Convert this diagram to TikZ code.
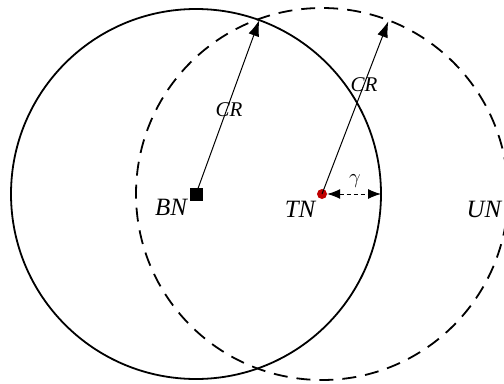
\documentclass[tikz,border=0pt]{standalone}
\usepackage{fontspec}
\setmainfont{Liberation Serif}
\usetikzlibrary{arrows.meta,calc}
\begin{document}
\begin{tikzpicture}[x=1bp,y=1bp,
  lbl/.style={inner sep=0pt,font=\fontsize{25}{25}\selectfont\itshape},
  crlbl/.style={inner sep=0pt,font=\fontsize{21}{21}\selectfont\itshape},
  rangecircle/.style={line width=1.8bp},
  radiusarrow/.style={line width=1bp,-{Latex[length=16bp,width=11bp]}},
  gaparrow/.style={line width=1bp,dash pattern=on 4bp off 3bp,{Latex[length=13bp,width=10bp]}-{Latex[length=13bp,width=10bp]}}]
\useasboundingbox (0,0) rectangle (504,383);
\clip (0,0) rectangle (504,383);
\node[fill=black,minimum size=13bp,inner sep=0pt] (bn) at (196,189) {};
\node[circle,fill=red!75!black,minimum size=10bp,inner sep=0pt] (tn) at (322,189) {};
\draw[rangecircle] (bn.center) circle[radius=185];
\draw[rangecircle,dash pattern=on 14bp off 9bp] (tn.center) circle[radius=186];
\coordinate (p1) at ($(bn.center)+(70:185)$);
\coordinate (p2) at ($(tn.center)+(69:185)$);
\coordinate (g) at ($(bn.center)+(185,0)$);
\draw[radiusarrow] (bn.center) -- (p1);
\draw[radiusarrow] (tn.center) -- (p2);
\draw[gaparrow] (tn.east) -- (g);
\node[lbl] (bnl) at (171,176) {BN};
\node[lbl] (tnl) at (300,174) {TN};
\node[lbl] (unl) at (484,174) {UN};
\node[crlbl] (cr1) at (229,273) {CR};
\node[crlbl] (cr2) at (364,298) {CR};
\node[crlbl] (gam) at (355,202) {$\gamma$};
\end{tikzpicture}
\end{document}
